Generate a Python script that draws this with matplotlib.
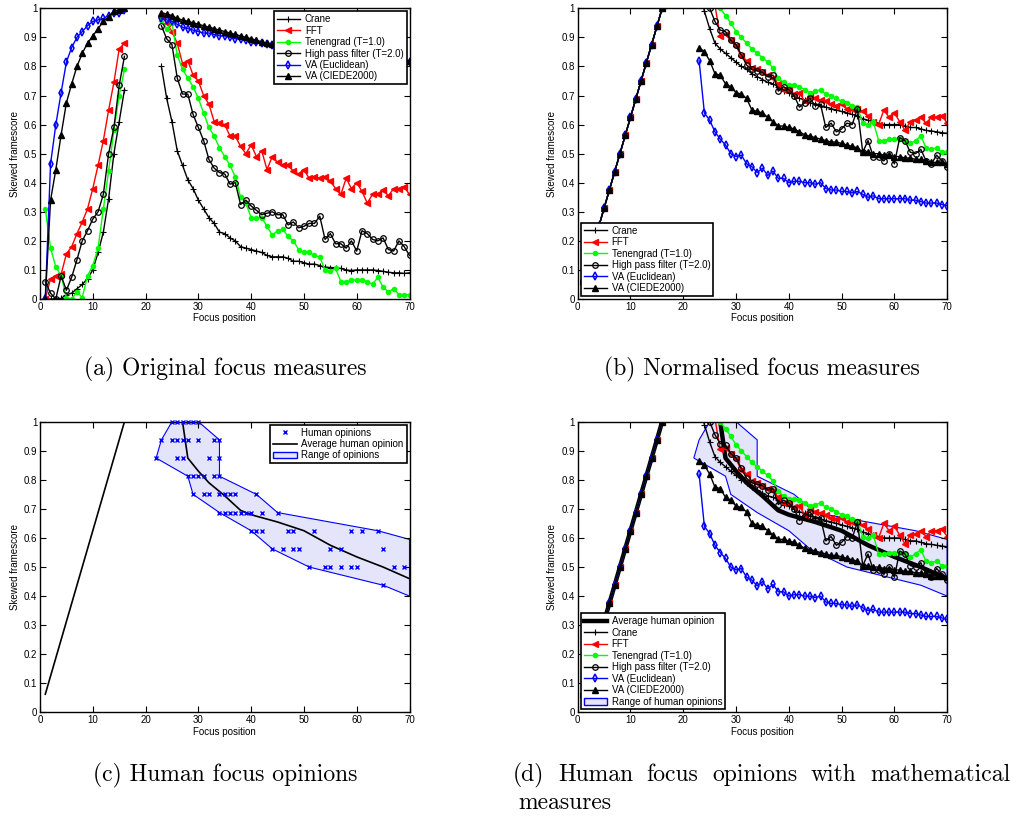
"""Focus measure comparison: four panels (original, normalised, human opinions, combined)."""

import matplotlib
matplotlib.use("Agg")
import matplotlib.pyplot as plt
import numpy as np
from matplotlib.patches import Patch
from matplotlib.ticker import FuncFormatter

plt.rcParams["font.family"] = ["Liberation Sans", "DejaVu Sans"]

# focus positions (frames 17-22 were not measured)
x_lo = list(range(1, 17))
x_hi = list(range(23, 71))

# ---- (a) original focus measures ----
crane_lo = [0, 0, 0, 0.002, 0.015, 0.02, 0.035, 0.05, 0.07, 0.1, 0.16, 0.23, 0.345, 0.5, 0.61, 0.72]
crane_hi = [0.8, 0.69, 0.61, 0.51, 0.46, 0.41, 0.38, 0.34, 0.31, 0.28,
            0.26, 0.23, 0.225, 0.21, 0.2, 0.18, 0.175, 0.17, 0.165, 0.16,
            0.15, 0.145, 0.145, 0.145, 0.14, 0.13, 0.13, 0.125, 0.12, 0.12,
            0.115, 0.11, 0.108, 0.108, 0.105, 0.1, 0.098, 0.1, 0.1, 0.1,
            0.1, 0.098, 0.095, 0.092, 0.09, 0.09, 0.088, 0.09]
fft_lo = [0, 0.07, 0.08, 0.085, 0.155, 0.18, 0.225, 0.265, 0.31, 0.38, 0.46, 0.545, 0.65, 0.745, 0.86, 0.88]
fft_hi = [0.97, 0.95, 0.92, 0.88, 0.81, 0.82, 0.77, 0.75, 0.7, 0.67,
          0.61, 0.605, 0.6, 0.56, 0.56, 0.525, 0.5, 0.53, 0.49, 0.51,
          0.445, 0.49, 0.47, 0.46, 0.46, 0.44, 0.43, 0.445, 0.415, 0.42,
          0.415, 0.42, 0.405, 0.38, 0.36, 0.415, 0.38, 0.4, 0.37, 0.33,
          0.36, 0.36, 0.375, 0.355, 0.38, 0.38, 0.385, 0.36]
ten_lo = [0.31, 0.175, 0.11, 0.08, 0.005, 0.0, 0.025, 0.005, 0.08, 0.115, 0.175, 0.31, 0.44, 0.58, 0.7, 0.79]
ten_hi = [0.96, 0.93, 0.95, 0.84, 0.79, 0.76, 0.73, 0.69, 0.64, 0.59,
          0.56, 0.52, 0.49, 0.46, 0.42, 0.35, 0.33, 0.28, 0.28, 0.28,
          0.25, 0.22, 0.235, 0.24, 0.215, 0.2, 0.17, 0.16, 0.16, 0.15,
          0.145, 0.1, 0.095, 0.105, 0.06, 0.06, 0.065, 0.065, 0.065, 0.06,
          0.05, 0.075, 0.04, 0.025, 0.035, 0.015, 0.015, 0.015]
hpf_lo = [0.06, 0.02, 0.0, 0.08, 0.03, 0.075, 0.135, 0.2, 0.235, 0.275, 0.3, 0.36, 0.5, 0.59, 0.735, 0.835]
hpf_hi = [0.94, 0.895, 0.875, 0.76, 0.705, 0.705, 0.635, 0.59, 0.545, 0.48,
          0.45, 0.435, 0.43, 0.395, 0.4, 0.325, 0.34, 0.32, 0.305, 0.29,
          0.295, 0.3, 0.29, 0.29, 0.255, 0.265, 0.245, 0.25, 0.26, 0.26,
          0.285, 0.205, 0.225, 0.19, 0.19, 0.175, 0.2, 0.165, 0.235, 0.225,
          0.205, 0.2, 0.21, 0.17, 0.165, 0.2, 0.18, 0.15]
vae_lo = [0.0, 0.465, 0.6, 0.71, 0.815, 0.865, 0.9, 0.92, 0.94, 0.955, 0.96, 0.965, 0.975, 0.985, 0.985, 0.995]
vae_hi = [0.965, 0.96, 0.955, 0.945, 0.935, 0.93, 0.925, 0.92, 0.915, 0.915,
          0.91, 0.905, 0.905, 0.9, 0.895, 0.895, 0.89, 0.885, 0.885, 0.88,
          0.878, 0.875, 0.873, 0.87, 0.868, 0.865, 0.862, 0.86, 0.858, 0.855,
          0.852, 0.85, 0.848, 0.845, 0.843, 0.84, 0.838, 0.835, 0.833, 0.83,
          0.828, 0.826, 0.824, 0.822, 0.82, 0.818, 0.817, 0.815]
vac_lo = [0.0, 0.34, 0.445, 0.565, 0.675, 0.74, 0.8, 0.845, 0.88, 0.905, 0.93, 0.955, 0.97, 0.99, 0.995, 1.0]
vac_hi = [0.985, 0.98, 0.975, 0.965, 0.96, 0.955, 0.95, 0.945, 0.94, 0.935,
          0.93, 0.925, 0.92, 0.915, 0.91, 0.905, 0.9, 0.895, 0.89, 0.885,
          0.88, 0.878, 0.875, 0.872, 0.87, 0.868, 0.865, 0.862, 0.86, 0.858,
          0.855, 0.853, 0.85, 0.848, 0.846, 0.844, 0.842, 0.84, 0.838, 0.836,
          0.834, 0.832, 0.83, 0.828, 0.826, 0.824, 0.822, 0.82]

# ---- (b)/(d) normalised focus measures ----
norm_lo = [0.0625, 0.125, 0.1875, 0.25, 0.3125, 0.375, 0.4375, 0.5,
           0.5625, 0.625, 0.6875, 0.75, 0.8125, 0.875, 0.9375, 1.0]
n_crane_hi = [1.08, 0.99, 0.93, 0.88, 0.86, 0.845, 0.83, 0.815, 0.8, 0.79,
              0.775, 0.765, 0.755, 0.745, 0.74, 0.73, 0.715, 0.71, 0.7, 0.69,
              0.685, 0.675, 0.67, 0.665, 0.66, 0.655, 0.65, 0.645, 0.64, 0.635,
              0.63, 0.62, 0.615, 0.61, 0.605, 0.6, 0.6, 0.6, 0.6, 0.595,
              0.59, 0.59, 0.585, 0.58, 0.578, 0.575, 0.572, 0.57]
n_fft_hi = [1.15, 1.1, 1.06, 1.01, 0.905, 0.91, 0.89, 0.87, 0.835, 0.82,
            0.795, 0.79, 0.78, 0.77, 0.76, 0.74, 0.72, 0.72, 0.705, 0.71,
            0.68, 0.7, 0.69, 0.685, 0.68, 0.67, 0.665, 0.67, 0.655, 0.655,
            0.655, 0.645, 0.63, 0.61, 0.6, 0.65, 0.625, 0.64, 0.61, 0.58,
            0.61, 0.615, 0.625, 0.605, 0.625, 0.625, 0.63, 0.605]
n_ten_hi = [1.2, 1.15, 1.1, 1.04, 1.0, 0.975, 0.95, 0.92, 0.9, 0.88,
            0.86, 0.845, 0.83, 0.815, 0.795, 0.76, 0.745, 0.735, 0.735, 0.73,
            0.72, 0.71, 0.715, 0.72, 0.705, 0.7, 0.69, 0.68, 0.675, 0.665,
            0.66, 0.605, 0.6, 0.61, 0.545, 0.545, 0.55, 0.55, 0.55, 0.545,
            0.535, 0.545, 0.56, 0.52, 0.515, 0.52, 0.505, 0.505]
n_hpf_hi = [1.1, 1.05, 1.0, 0.955, 0.925, 0.92, 0.89, 0.875, 0.84, 0.805,
            0.79, 0.785, 0.78, 0.765, 0.77, 0.715, 0.73, 0.72, 0.7, 0.66,
            0.675, 0.69, 0.665, 0.67, 0.59, 0.605, 0.575, 0.585, 0.605, 0.6,
            0.655, 0.505, 0.545, 0.49, 0.49, 0.475, 0.5, 0.465, 0.555, 0.545,
            0.505, 0.5, 0.515, 0.475, 0.465, 0.495, 0.475, 0.455]
n_vae_hi = [0.82, 0.64, 0.615, 0.575, 0.55, 0.53, 0.5, 0.49, 0.495, 0.465,
            0.455, 0.435, 0.45, 0.425, 0.44, 0.415, 0.415, 0.4, 0.405, 0.405,
            0.4, 0.4, 0.395, 0.4, 0.38, 0.375, 0.375, 0.37, 0.37, 0.365,
            0.37, 0.36, 0.35, 0.355, 0.345, 0.345, 0.345, 0.345, 0.345, 0.345,
            0.34, 0.34, 0.335, 0.33, 0.33, 0.33, 0.325, 0.32]
n_vac_hi = [0.865, 0.85, 0.82, 0.775, 0.77, 0.74, 0.73, 0.71, 0.705, 0.69,
            0.65, 0.645, 0.64, 0.625, 0.61, 0.595, 0.595, 0.59, 0.585, 0.575,
            0.565, 0.56, 0.555, 0.55, 0.545, 0.54, 0.54, 0.535, 0.53, 0.525,
            0.52, 0.505, 0.505, 0.5, 0.5, 0.495, 0.495, 0.49, 0.49, 0.485,
            0.485, 0.48, 0.48, 0.475, 0.47, 0.47, 0.47, 0.465]

# ---- (c) human opinions ----
human_x = [25, 26, 27, 28, 29, 30,
           23, 25, 26, 27, 28, 30, 33, 34,
           22, 26, 27, 32, 34,
           28, 29, 30, 31, 33, 34,
           29, 31, 32, 34, 35, 36, 37, 41,
           34, 35, 36, 37, 38, 39, 40, 42, 45,
           40, 41, 42, 47, 48, 52, 59, 61, 64,
           44, 46, 48, 49, 55, 57, 65,
           51, 54, 55, 57, 59, 60, 67, 69,
           65]
human_y = [1.0] * 6 + [0.9375] * 8 + [0.875] * 5 + [0.8125] * 6 + [0.75] * 8 + \
          [0.6875] * 9 + [0.625] * 9 + [0.5625] * 7 + [0.5] * 8 + [0.4375]
avg_lo_x = [1, 16]
avg_lo_y = [0.0625, 1.0]
avg_hi_x = [27, 28, 30, 32, 35, 38, 40, 45, 50, 55, 60, 65, 70]
avg_hi_y = [1.0, 0.875, 0.83, 0.79, 0.745, 0.695, 0.68, 0.655, 0.625, 0.575, 0.535, 0.5, 0.46]
range_top_x = [22, 23, 25, 30, 34, 34, 41, 45, 64, 70]
range_top_y = [0.875, 0.9375, 1.0, 1.0, 0.9375, 0.8125, 0.75, 0.6875, 0.625, 0.595]
range_bot_x = [22, 28, 29, 34, 40, 44, 51, 65, 70]
range_bot_y = [0.875, 0.8125, 0.75, 0.6875, 0.625, 0.5625, 0.5, 0.4375, 0.40]

labels = ["Crane", "FFT", "Tenengrad (T=1.0)", "High pass filter (T=2.0)",
          "VA (Euclidean)", "VA (CIEDE2000)"]
styles = [dict(color="k", marker="+", ms=4, mew=0.8),
          dict(color="red", marker="<", ms=4.5),
          dict(color="#00ff00", marker=".", ms=6),
          dict(color="k", marker="o", ms=4, mfc="none", mew=0.9),
          dict(color="blue", marker="d", ms=4, mfc="none", mew=1.1),
          dict(color="k", marker="^", ms=4.5)]
RANGE_FC = "#e4e4fb"


def join(lo, hi):
    return lo + [np.nan] + hi


X = x_lo + [np.nan] + x_hi
orig = [join(crane_lo, crane_hi), join(fft_lo, fft_hi), join(ten_lo, ten_hi),
        join(hpf_lo, hpf_hi), join(vae_lo, vae_hi), join(vac_lo, vac_hi)]
norm = [join(norm_lo, h) for h in (n_crane_hi, n_fft_hi, n_ten_hi, n_hpf_hi, n_vae_hi, n_vac_hi)]

W, H = 1020, 823
fig = plt.figure(figsize=(W / 100, H / 100), dpi=100)


def make_ax(left, top):
    ax = fig.add_axes([left / W, 1 - (top + 290.7) / H, 369.5 / W, 290.7 / H])
    ax.set_xlim(0, 70)
    ax.set_ylim(0, 1)
    ax.set_xticks(np.arange(0, 71, 10))
    ax.set_yticks(np.arange(0, 1.01, 0.1))
    fmt = FuncFormatter(lambda v, _: f"{v:g}")
    ax.xaxis.set_major_formatter(fmt)
    ax.yaxis.set_major_formatter(fmt)
    ax.tick_params(direction="in", top=True, right=True, length=4, width=0.8,
                   labelsize=7, pad=2)
    for s in ax.spines.values():
        s.set_linewidth(1.0)
    ax.set_xlabel("Focus position", fontsize=7, labelpad=1)
    ax.set_ylabel("Skewed framescore", fontsize=7, labelpad=3)
    return ax


def legend(ax, handles, lbls, loc):
    lg = ax.legend(handles, lbls, loc=loc, fontsize=7, fancybox=False, framealpha=1,
                   edgecolor="k", borderaxespad=0.3, handlelength=2.4, borderpad=0.3,
                   labelspacing=0.15, handletextpad=0.5)
    lg.get_frame().set_linewidth(1.2)
    return lg


def draw_measures(ax, series):
    hs = []
    for y, st, lb in zip(series, styles, labels):
        h, = ax.plot(X, y, lw=1.0, label=lb, **st)
        hs.append(h)
    return hs


# (a)
ax_a = make_ax(40, 8.3)
hs = draw_measures(ax_a, orig)
legend(ax_a, hs, labels, "upper right")

# (b)
ax_b = make_ax(577.7, 8.3)
hs = draw_measures(ax_b, norm)
legend(ax_b, hs, labels, "lower left")

# (c)
poly_x = range_top_x + range_bot_x[::-1]
poly_y = range_top_y + range_bot_y[::-1]
ax_c = make_ax(40, 421.7)
ax_c.fill(poly_x, poly_y, facecolor=RANGE_FC, edgecolor="blue", lw=0.8, zorder=1)
ax_c.plot(avg_lo_x, avg_lo_y, color="k", lw=1.2, zorder=2)
avg_c, = ax_c.plot(avg_hi_x, avg_hi_y, color="k", lw=1.2, zorder=2)
pts, = ax_c.plot(human_x, human_y, ls="none", marker="x", color="blue", ms=2.8, mew=1.0,
                 zorder=3, clip_on=False)
legend(ax_c, [pts, avg_c, Patch(facecolor=RANGE_FC, edgecolor="blue")],
       ["Human opinions", "Average human opinion", "Range of opinions"], "upper right")

# (d)
ax_d = make_ax(577.7, 421.7)
ax_d.fill(poly_x, poly_y, facecolor=RANGE_FC, edgecolor="blue", lw=0.8, zorder=0.5)
ax_d.plot(avg_lo_x, avg_lo_y, color="k", lw=3.2)
avg_d, = ax_d.plot(avg_hi_x, avg_hi_y, color="k", lw=3.2)
hs = draw_measures(ax_d, norm)
legend(ax_d, [avg_d] + hs + [Patch(facecolor=RANGE_FC, edgecolor="blue")],
       ["Average human opinion"] + labels + ["Range of human opinions"], "lower left")

# captions (LaTeX-style, the first line of (d) justified between 513 and 1010 px)
cap = dict(family="cmr10", fontsize=17, va="baseline")
fig.text(225 / W, 1 - 375 / H, "(a) Original focus measures", ha="center", **cap)
fig.text(762 / W, 1 - 375 / H, "(b) Normalised focus measures", ha="center", **cap)
fig.text(225 / W, 1 - 781 / H, "(c) Human focus opinions", ha="center", **cap)

d_words = ["(d)", "Human", "focus", "opinions", "with", "mathematical"]
renderer = fig.canvas.get_renderer()
texts = [fig.text(0, 1 - 781 / H, wd, ha="left", **cap) for wd in d_words]
widths = [t.get_window_extent(renderer).width for t in texts]
x0, x1 = 513, 1010
gap = (x1 - x0 - sum(widths)) / (len(d_words) - 1)
px = x0
for t, w in zip(texts, widths):
    t.set_x(px / W)
    px += w + gap
fig.text(518 / W, 1 - 809 / H, "measures", ha="left", **cap)

fig.savefig("out.png", dpi=100)
